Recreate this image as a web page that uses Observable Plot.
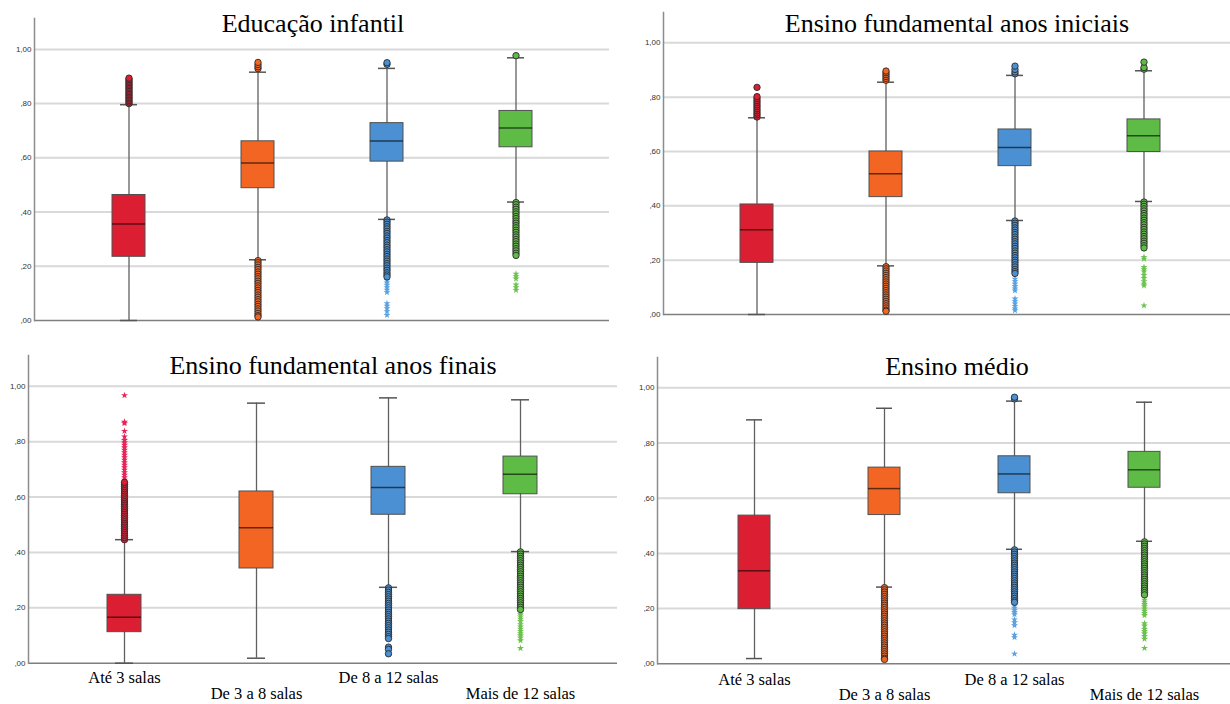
<!DOCTYPE html>
<html><head><meta charset="utf-8">
<script src="https://cdn.jsdelivr.net/npm/d3@7"></script>
<script src="https://cdn.jsdelivr.net/npm/@observablehq/plot@0.6"></script>
<style>
body{margin:0;background:#fff;}
#root{position:relative;width:1230px;height:704px;overflow:hidden;background:#fff;}
.panel{position:absolute;}
.title{position:absolute;font-family:"Liberation Serif","Times New Roman",serif;font-size:26px;line-height:26px;color:#000;text-align:center;white-space:nowrap;width:500px;z-index:5;}
</style></head><body><div id="root"></div>
<script>
const categories = ["Até 3 salas", "De 3 a 8 salas", "De 8 a 12 salas", "Mais de 12 salas"];
const boxColors = ["#dc1e32", "#f26522", "#4a90d2", "#5dbb46"];
const starColors = ["#e8245a", "#f07a3a", "#5aa2e2", "#6cc24e"];
const gridTicks = [0, 0.2, 0.4, 0.6, 0.8, 1.0];
const tickLabels = [",00", ",20", ",40", ",60", ",80", "1,00"];
const titles = ["Educação infantil", "Ensino fundamental anos iniciais", "Ensino fundamental anos finais", "Ensino médio"];

// [lower whisker, Q1, median, Q3, upper whisker] per category
const infantilStats = [[0.000,0.235,0.356,0.463,0.796],[0.224,0.488,0.581,0.661,0.916],[0.373,0.586,0.662,0.728,0.930],[0.437,0.639,0.710,0.773,0.969]];
const iniciaisStats = [[0.000,0.190,0.312,0.405,0.724],[0.179,0.432,0.518,0.600,0.855],[0.346,0.546,0.615,0.681,0.880],[0.416,0.598,0.658,0.718,0.897]];
const finaisStats   = [[0.000,0.112,0.166,0.247,0.446],[0.018,0.342,0.489,0.620,0.939],[0.274,0.536,0.634,0.709,0.958],[0.403,0.610,0.682,0.746,0.951]];
const medioStats    = [[0.019,0.198,0.337,0.537,0.884],[0.278,0.539,0.635,0.711,0.926],[0.415,0.618,0.688,0.752,0.952],[0.444,0.638,0.703,0.768,0.948]];

// outliers (circles)
const infantilCircles = [
 [0.800,0.806,0.811,0.817,0.822,0.828,0.833,0.839,0.844,0.850,0.856,0.861,0.867,0.872,0.878,0.883,0.889,0.894],
 [0.929,0.936,0.944,0.952,0.221,0.213,0.205,0.196,0.188,0.179,0.171,0.162,0.154,0.145,0.137,0.128,0.120,0.111,0.103,0.094,0.086,0.077,0.069,0.060,0.052,0.043,0.035,0.026,0.018,0.013],
 [0.945,0.951,0.371,0.363,0.355,0.346,0.338,0.329,0.321,0.312,0.304,0.295,0.287,0.278,0.270,0.261,0.253,0.244,0.236,0.227,0.219,0.210,0.202,0.193,0.185,0.176,0.168,0.161],
 [0.977,0.435,0.427,0.418,0.410,0.401,0.393,0.384,0.376,0.367,0.359,0.350,0.342,0.333,0.325,0.316,0.308,0.299,0.291,0.282,0.274,0.265,0.257,0.248,0.240]
];
const iniciaisCircles = [
 [0.727,0.735,0.742,0.750,0.757,0.765,0.772,0.780,0.787,0.795,0.802,0.836],
 [0.862,0.869,0.876,0.883,0.890,0.896,0.176,0.168,0.160,0.152,0.144,0.136,0.128,0.120,0.112,0.104,0.096,0.088,0.080,0.072,0.064,0.056,0.048,0.040,0.032,0.024,0.016,0.012],
 [0.886,0.893,0.902,0.914,0.344,0.336,0.328,0.319,0.311,0.302,0.294,0.285,0.277,0.268,0.260,0.251,0.243,0.234,0.226,0.217,0.209,0.200,0.192,0.183,0.175,0.166,0.158,0.151],
 [0.903,0.909,0.929,0.414,0.406,0.398,0.389,0.381,0.372,0.364,0.355,0.347,0.338,0.330,0.321,0.313,0.304,0.296,0.287,0.279,0.270,0.262,0.253,0.245]
];
const finaisCircles = [
 [0.446,0.454,0.462,0.470,0.478,0.486,0.494,0.502,0.510,0.518,0.526,0.534,0.542,0.550,0.558,0.566,0.574,0.582,0.590,0.598,0.606,0.614,0.622,0.630,0.638,0.646,0.653],
 [],
 [0.272,0.264,0.256,0.248,0.240,0.232,0.224,0.216,0.208,0.200,0.192,0.184,0.176,0.168,0.160,0.152,0.144,0.136,0.128,0.120,0.112,0.104,0.096,0.089,0.058,0.050,0.034],
 [0.402,0.394,0.386,0.378,0.370,0.362,0.354,0.346,0.338,0.330,0.322,0.314,0.306,0.298,0.290,0.282,0.274,0.266,0.258,0.250,0.242,0.234,0.226,0.218,0.210,0.202,0.194]
];
const medioCircles = [
 [],
 [0.276,0.268,0.260,0.252,0.244,0.236,0.228,0.220,0.212,0.204,0.196,0.188,0.180,0.172,0.164,0.156,0.148,0.140,0.132,0.124,0.116,0.108,0.100,0.092,0.084,0.076,0.068,0.060,0.052,0.044,0.036,0.028,0.020,0.016],
 [0.960,0.966,0.413,0.405,0.397,0.389,0.381,0.373,0.365,0.357,0.349,0.341,0.333,0.325,0.317,0.309,0.301,0.293,0.285,0.277,0.269,0.261,0.253,0.245,0.237,0.229,0.223],
 [0.442,0.434,0.426,0.418,0.410,0.402,0.394,0.386,0.378,0.370,0.362,0.354,0.346,0.338,0.330,0.322,0.314,0.306,0.298,0.290,0.282,0.274,0.266,0.258,0.250]
];

// extreme values (stars)
const infantilStars = [[],[],[0.148,0.140,0.131,0.122,0.113,0.104,0.063,0.054,0.045,0.034,0.020],[0.172,0.163,0.154,0.132,0.122,0.112]];
const iniciaisStars = [[],[],[0.131,0.122,0.113,0.104,0.095,0.088,0.058,0.049,0.040,0.031,0.022,0.015],[0.211,0.205,0.174,0.166,0.158,0.145,0.134,0.122,0.113,0.106,0.033]];
const finaisStars = [[0.662,0.671,0.680,0.689,0.698,0.707,0.716,0.725,0.734,0.743,0.752,0.761,0.770,0.779,0.788,0.797,0.805,0.818,0.838,0.866,0.871,0.967],[],[],[0.184,0.176,0.168,0.160,0.152,0.140,0.132,0.124,0.116,0.108,0.100,0.092,0.082,0.054]];
const medioStars = [[],[],[0.211,0.203,0.195,0.187,0.179,0.160,0.150,0.139,0.105,0.096,0.036],[0.232,0.224,0.216,0.208,0.200,0.192,0.184,0.176,0.146,0.138,0.126,0.118,0.110,0.100,0.090,0.057]];

const sans = "Liberation Sans, Arial, sans-serif";
const serif = "Liberation Serif, Times New Roman, serif";

function makePanel(cfg) {
  const {stats, circles, stars} = cfg;
  const boxes = categories.map((c, i) => ({cat: c, lo: stats[i][0], q1: stats[i][1], med: stats[i][2], q3: stats[i][3], hi: stats[i][4], col: boxColors[i]}));
  const circ = circles.flatMap((arr, i) => arr.map(v => ({cat: categories[i], v, col: boxColors[i]})));
  const st = stars.flatMap((arr, i) => arr.map(v => ({cat: categories[i], v, col: starColors[i]})));
  const marks = [
    Plot.ruleY(gridTicks.filter(d => d > 0), {stroke: "#d9d9d9", strokeWidth: 2}),
    Plot.ruleY([0], {stroke: "#7f7f7f", strokeWidth: 1.5}),
    Plot.frame({anchor: "left", stroke: "#8c8c8c", strokeWidth: 1.5}),
    Plot.axisY({ticks: gridTicks, tickFormat: d => tickLabels[gridTicks.indexOf(d)], tickSize: 0, tickPadding: 3, fontSize: 8, fill: "#333", label: null, fontFamily: sans}),
    Plot.ruleX(boxes, {x: "cat", y1: "lo", y2: "hi", stroke: "#606060", strokeWidth: 1.3}),
    Plot.tickY(boxes, {x: "cat", y: "lo", insetLeft: 8, insetRight: 8, stroke: "#555", strokeWidth: 1.5}),
    Plot.tickY(boxes, {x: "cat", y: "hi", insetLeft: 8, insetRight: 8, stroke: "#555", strokeWidth: 1.5}),
    Plot.barY(boxes, {x: "cat", y1: "q1", y2: "q3", fill: "col", stroke: "#505050", strokeWidth: 1}),
    Plot.tickY(boxes, {x: "cat", y: "med", stroke: "#000", strokeOpacity: 0.6, strokeWidth: 1.5}),
    Plot.dot(st, {x: "cat", y: "v", symbol: "star", r: 2.2, fill: "col", stroke: "none"}),
    Plot.dot(circ, {x: "cat", y: "v", r: 3.2, fill: "col", stroke: "#2a2a2a", strokeWidth: 0.9})
  ];
  if (cfg.xLabels) {
    marks.push(Plot.axisX({ticks: [categories[0], categories[2]], tickSize: 0, tickPadding: cfg.pad1, fontSize: 16.5, fontFamily: serif, fill: "#000", label: null}));
    marks.push(Plot.axisX({ticks: [categories[1], categories[3]], tickSize: 0, tickPadding: cfg.pad2, fontSize: 16.5, fontFamily: serif, fill: "#000", label: null}));
  }
  const plot = Plot.plot({
    width: cfg.width, height: cfg.height,
    marginLeft: cfg.mL, marginRight: cfg.mR, marginTop: cfg.mT, marginBottom: cfg.mB,
    x: {type: "band", domain: categories, paddingInner: cfg.padIn, paddingOuter: cfg.padOut, align: cfg.align, axis: cfg.xLabels ? undefined : null},
    y: {domain: [0, cfg.top]},
    color: {type: "identity"},
    style: {background: "transparent"},
    marks
  });
  const div = document.createElement("div");
  div.className = "panel";
  div.style.left = cfg.left + "px";
  div.style.top = cfg.y0 + "px";
  div.appendChild(plot);
  return div;
}

const root = document.getElementById("root");
root.appendChild(makePanel({stats: infantilStats, circles: infantilCircles, stars: infantilStars, left: 0, y0: 0, width: 615, height: 330, mL: 34, mR: 6, mT: 18, mB: 10, top: 1.114, padIn: 0.745, padOut: 0.593, align: 0.5}));
root.appendChild(makePanel({stats: iniciaisStats, circles: iniciaisCircles, stars: iniciaisStars, left: 615, y0: 0, width: 615, height: 324, mL: 48, mR: 0, mT: 12, mB: 10, top: 1.1115, padIn: 0.745, padOut: 0.565, align: 0.524}));
root.appendChild(makePanel({stats: finaisStats, circles: finaisCircles, stars: finaisStars, left: 0, y0: 345, width: 617, height: 359, mL: 28, mR: 0, mT: 10, mB: 41.3, top: 1.111, padIn: 0.742, padOut: 0.602, align: 0.5, xLabels: true, pad1: 8, pad2: 24.5}));
root.appendChild(makePanel({stats: medioStats, circles: medioCircles, stars: medioStars, left: 615, y0: 345, width: 615, height: 359, mL: 42, mR: 0, mT: 12, mB: 40.7, top: 1.11, padIn: 0.752, padOut: 0.565, align: 0.54, xLabels: true, pad1: 9.5, pad2: 24.5}));

const titlePos = [[313, 11], [957, 11], [333, 353], [957, 354]];
titles.forEach((t, i) => {
  const d = document.createElement("div");
  d.className = "title";
  d.textContent = t;
  d.style.left = (titlePos[i][0] - 250) + "px";
  d.style.top = titlePos[i][1] + "px";
  root.appendChild(d);
});
</script>
</body></html>
